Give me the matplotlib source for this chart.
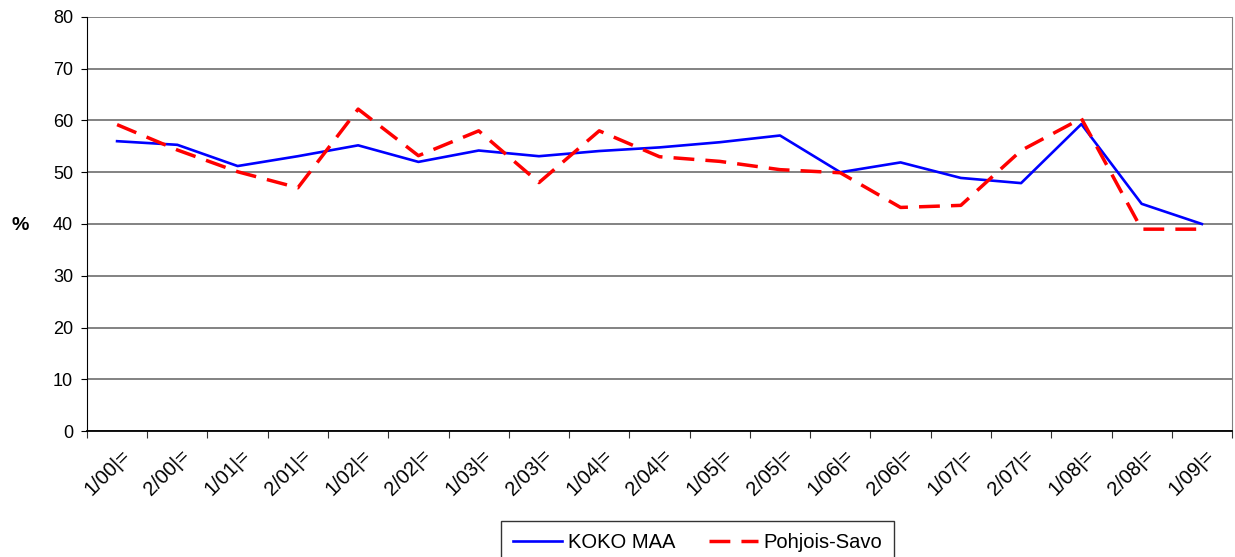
import numpy as np
import matplotlib
matplotlib.use("Agg")
import matplotlib.pyplot as plt

plt.rcParams['font.family'] = ['Liberation Sans', 'DejaVu Sans']

periods = ["1/00|=", "2/00|=", "1/01|=", "2/01|=", "1/02|=", "2/02|=", "1/03|=",
           "2/03|=", "1/04|=", "2/04|=", "1/05|=", "2/05|=", "1/06|=", "2/06|=",
           "1/07|=", "2/07|=", "1/08|=", "2/08|=", "1/09|="]
koko_maa = [56.0, 55.3, 51.2, 53.1, 55.2, 52.0, 54.2, 53.1, 54.1, 54.8,
            55.8, 57.1, 50.0, 51.9, 48.9, 47.9, 59.3, 43.9, 40.0]
pohjois_savo = [59.2, 54.3, 50.1, 47.0, 62.2, 53.2, 58.0, 48.0, 58.0, 53.0,
                52.1, 50.5, 49.9, 43.2, 43.6, 54.2, 60.4, 39.0, 39.0]
yticks = [0, 10, 20, 30, 40, 50, 60, 70, 80]

F = 13
fig = plt.figure(figsize=(12.35, 5.57), dpi=100)
ax = fig.add_axes([0.0704, 0.2262, 0.9272, 0.7433])

n = len(periods)
x = np.arange(n) + 0.5

ax.plot(x, koko_maa, color='#0000ff', lw=1.9, label='KOKO MAA', zorder=3)
ax.plot(x, pohjois_savo, color='#ff0000', lw=2.5, dashes=(6, 3.2),
        label='Pohjois-Savo', zorder=3)

ax.set_xlim(0, n)
ax.set_ylim(0, 80)
ax.set_yticks(yticks)
ax.set_yticklabels([str(v) for v in yticks], fontsize=F)
ax.yaxis.grid(True, color='#606060', lw=1.1)
ax.set_axisbelow(True)

ax.set_xticks(np.arange(n + 1))
ax.set_xticklabels([])
ax.set_xticks(x + 0.05, minor=True)
ax.set_xticklabels(periods, minor=True, rotation=45, ha='right', va='top',
                   rotation_mode='anchor', fontsize=14.5)
ax.tick_params(axis='x', which='major', length=5, direction='out', color='#333333')
ax.tick_params(axis='x', which='minor', length=0, pad=11)
ax.tick_params(axis='y', length=4, direction='out', pad=6)

ax.spines['right'].set_color('#808080')
ax.spines['top'].set_visible(False)
ax.spines['left'].set_color('black')
ax.spines['bottom'].set_color('black')
ax.spines['bottom'].set_linewidth(1.3)

fig.text(0.016, 0.595, '%', fontsize=F + 1, fontweight='bold', ha='center', va='center')

leg = fig.legend(loc='upper center', bbox_to_anchor=(0.565, 0.083), ncol=2,
                 fontsize=14.5, frameon=True, fancybox=False, handlelength=2.4,
                 handletextpad=0.3, columnspacing=1.7, borderpad=0.6)
leg.get_frame().set_edgecolor('black')
leg.get_frame().set_linewidth(1.0)

plt.savefig('out.png', dpi=100)
